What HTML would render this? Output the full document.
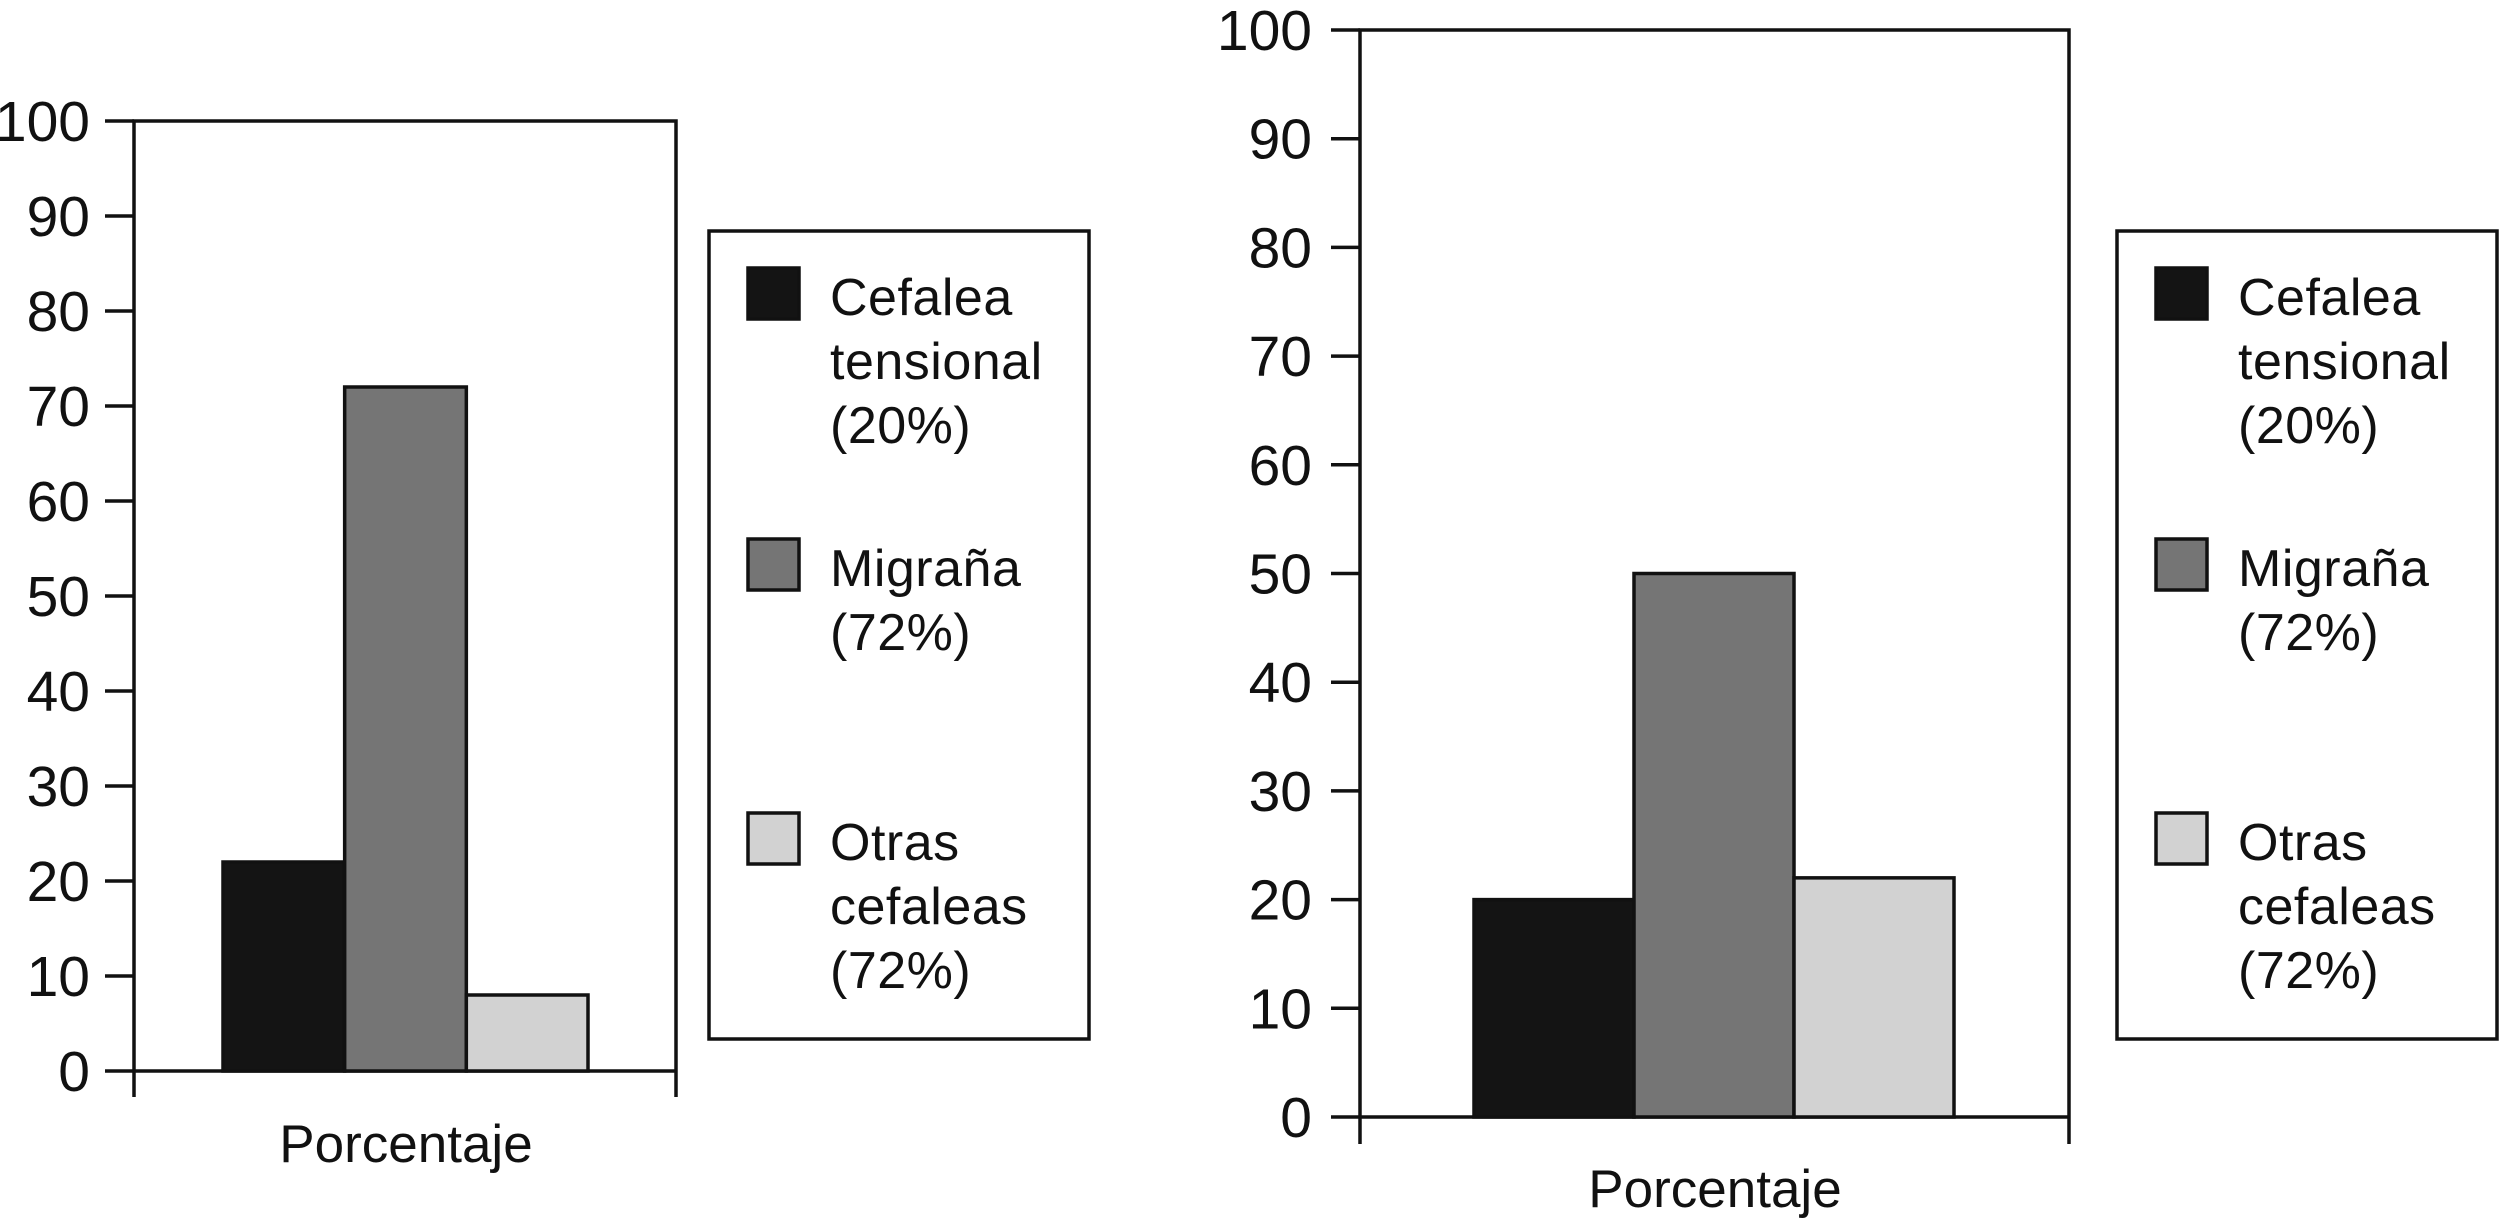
<!DOCTYPE html>
<html><head><meta charset="utf-8"><style>
html,body{margin:0;padding:0;background:#fff;}
svg{display:block;font-family:"Liberation Sans",Arial,sans-serif;}
</style></head><body>
<svg id="chart" width="2500" height="1225" viewBox="0 0 2500 1225" xmlns="http://www.w3.org/2000/svg"></svg>
<script>
const categories = ["Cefalea tensional", "Migraña", "Otras cefaleas"];
const leftValues = [22, 72, 8];
const rightValues = [20, 50, 22];
const yTicks = [0, 10, 20, 30, 40, 50, 60, 70, 80, 90, 100];
const legendLines = [["Cefalea", "tensional", "(20%)"], ["Migraña", "(72%)"], ["Otras", "cefaleas", "(72%)"]];
const xLabel = "Porcentaje";

const NS = "http://www.w3.org/2000/svg";
const svg = document.getElementById("chart");
const fills = ["#141414", "#757575", "#d2d2d2"];
function mk(tag, attrs, parent) {
  const e = document.createElementNS(NS, tag);
  for (const k in attrs) e.setAttribute(k, attrs[k]);
  (parent || svg).appendChild(e);
  return e;
}
function drawChart(cfg, values, prefix) {
  const g = mk("g", {});
  
  
  const y = v => cfg.y0 - (v / 100) * (cfg.y0 - cfg.y100);
  const fr = mk("path", {d: `M${cfg.x0} ${cfg.axisBottom} V${cfg.y100} H${cfg.x1} V${cfg.axisBottom} M${cfg.x0} ${cfg.y0} H${cfg.x1}`, fill: "none", stroke: "#111", "stroke-width": 3.5}, g);
  
  
  yTicks.forEach(t => {
    const ln = mk("line", {x1: cfg.tickL, x2: cfg.x0, y1: y(t), y2: y(t), stroke: "#111", "stroke-width": 3.5}, g);
    
    
    const tx = mk("text", {x: cfg.labelR, y: y(t) + 20, "text-anchor": "end", "font-size": 57, fill: "#111"}, g);
    tx.textContent = t;
    
    
  });
  const bw = (cfg.barEnd - cfg.barStart) / values.length;
  values.forEach((v, i) => {
    const r = mk("rect", {x: cfg.barStart + i * bw, y: y(v), width: bw, height: y(0) - y(v), fill: fills[i], stroke: "#111", "stroke-width": 3.5}, g);
    
    
  });
  const xl = mk("text", {x: cfg.xLabelX, y: cfg.xLabelY, "text-anchor": "middle", "font-size": 53, fill: "#111"}, g);
  xl.textContent = xLabel;
  
  
  const lg = mk("g", {}, g);
  
  
  mk("rect", {x: cfg.legX, y: 231, width: 380, height: 808, fill: "#fff", stroke: "#111", "stroke-width": 3.5}, lg);
  const swY = [268, 539, 813];
  categories.forEach((c, i) => {
    const sw = mk("rect", {x: cfg.legX + 39, y: swY[i], width: 51, height: 51, fill: fills[i], stroke: "#111", "stroke-width": 3.5}, lg);
    
    
    const tx = mk("text", {x: cfg.legX + 121, y: swY[i] + 47, "font-size": 52, "letter-spacing": 0.5, fill: "#111"}, lg);
    
    
    legendLines[i].forEach((l, j) => {
      const ts = mk("tspan", {x: cfg.legX + 121, dy: j === 0 ? 0 : 64}, tx);
      ts.textContent = l;
    });
  });
}
drawChart({x0: 134, x1: 676, y0: 1071, y100: 121, axisBottom: 1097, tickL: 105, labelR: 90,
  barStart: 223, barEnd: 588, xLabelX: 406, xLabelY: 1162, legX: 709}, leftValues, "left");
drawChart({x0: 1360, x1: 2069, y0: 1117, y100: 30, axisBottom: 1144, tickL: 1331, labelR: 1312,
  barStart: 1474, barEnd: 1954, xLabelX: 1715, xLabelY: 1207, legX: 2117}, rightValues, "right");
</script>
</body></html>
